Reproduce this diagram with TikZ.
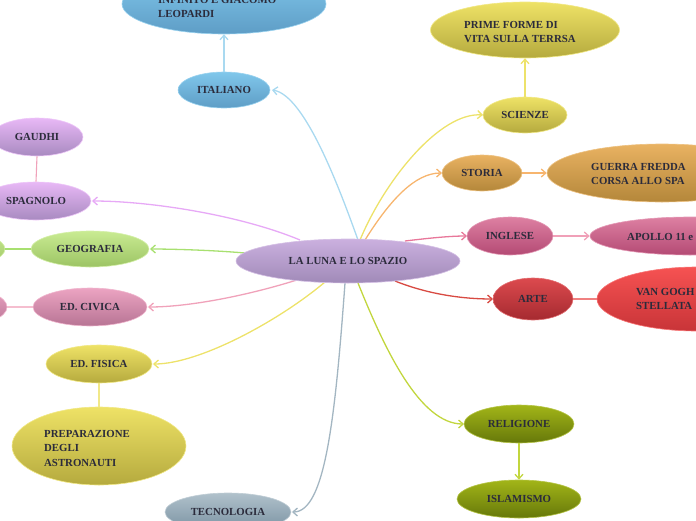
\documentclass[tikz,border=0pt]{standalone}
\usepackage{fontspec}
\setmainfont{Liberation Serif}
\usetikzlibrary{arrows.meta,calc,shapes.geometric}
\definecolor{txtc}{HTML}{2B2B3B}
\definecolor{purT}{HTML}{CBB0DF}\definecolor{purB}{HTML}{A08AB8}
\definecolor{bluT}{HTML}{80C7EB}\definecolor{bluB}{HTML}{5E9DC6}
\definecolor{yelT}{HTML}{EEE266}\definecolor{yelB}{HTML}{B5AA3E}
\definecolor{oraT}{HTML}{E9B262}\definecolor{oraB}{HTML}{B4873A}
\definecolor{pinT}{HTML}{DD80A2}\definecolor{pinB}{HTML}{B44A74}
\definecolor{redT}{HTML}{DC4A4E}\definecolor{redB}{HTML}{A52A30}
\definecolor{vanT}{HTML}{F65252}\definecolor{vanB}{HTML}{C83438}
\definecolor{lilT}{HTML}{E8B8F6}\definecolor{lilB}{HTML}{A88AC0}
\definecolor{grnT}{HTML}{C9EB92}\definecolor{grnB}{HTML}{9CC464}
\definecolor{pcvT}{HTML}{ECA4C2}\definecolor{pcvB}{HTML}{B77494}
\definecolor{tecT}{HTML}{B0C1CB}\definecolor{tecB}{HTML}{7A92A2}
\definecolor{oliT}{HTML}{A2B518}\definecolor{oliB}{HTML}{66780A}
\definecolor{cBlue}{HTML}{A9D9F0}\definecolor{cYel}{HTML}{EDE26A}
\definecolor{cOra}{HTML}{F7B56E}\definecolor{cPink}{HTML}{E8779A}
\definecolor{cRed}{HTML}{D84A42}\definecolor{cOli}{HTML}{C2D63E}
\definecolor{cTec}{HTML}{A3B6C2}\definecolor{cCiv}{HTML}{F0A2BA}
\definecolor{cGrn}{HTML}{A8E070}\definecolor{cLil}{HTML}{E7A9F6}
\definecolor{cIng}{HTML}{F0A0B8}\definecolor{cArt}{HTML}{F08080}
\begin{document}
\begin{tikzpicture}[x=1pt,y=-1pt,
  ell/.style n args={4}{ellipse, inner sep=0pt, minimum width=#1, minimum height=#2,
     top color=#3, bottom color=#4, draw=#3!80!white, line width=0.6pt,
     font=\fontsize{10.8}{14.5}\selectfont\bfseries, text=txtc, align=left},
  txt/.style={inner sep=0pt, font=\fontsize{10.8}{14.5}\selectfont\bfseries, text=txtc, align=left, anchor=west},
  conn/.style={line width=1.3pt, -{Straight Barb[length=4.5pt,width=8pt]}},
  link/.style={line width=1.1pt}]
\useasboundingbox (0,0) rectangle (696,520);
\clip (0,0) rectangle (696,520);
% connectors from centre (drawn first)
\coordinate (cc) at (348,261);
\draw[conn,cBlue] ($(cc)+(10,-21)$) .. controls (340,190) and (305,95) .. (272,90) coordinate (e1);
\draw[conn,cYel] ($(cc)+(12,-21)$) .. controls (385,180) and (440,112) .. (483,115) coordinate (e2);
\draw[conn,cOra] ($(cc)+(17,-21)$) .. controls (390,200) and (415,173) .. (442,173) coordinate (e3);
\draw[conn,cPink] ($(cc)+(57,-20)$) .. controls (430,238) and (450,236) .. (467,236) coordinate (e4);
\draw[conn,cRed] ($(cc)+(47,20)$) .. controls (430,295) and (465,299) .. (493,299) coordinate (e5);
\draw[conn,cOli] ($(cc)+(10,22)$) .. controls (385,350) and (420,424) .. (464,424) coordinate (e6);
\draw[conn,cTec] ($(cc)+(-3,22)$) .. controls (335,420) and (325,512) .. (292,512) coordinate (e7);
\draw[conn,cYel] ($(cc)+(-23,21)$) .. controls (280,320) and (200,364) .. (153,364) coordinate (e8);
\draw[conn,cCiv] ($(cc)+(-48,18)$) .. controls (250,295) and (190,307) .. (148,307) coordinate (e9);
\draw[conn,cGrn] ($(cc)+(-103,-8)$) .. controls (210,250) and (170,249) .. (150,249) coordinate (e10);
\draw[conn,cLil] ($(cc)+(-48,-21)$) .. controls (240,215) and (150,201) .. (92,201) coordinate (e11);
% central node
\node[ell={224pt}{44pt}{purT}{purB}] (c) at (348,261) {LA LUNA E LO SPAZIO};
% nodes
\node[ell={92pt}{36pt}{bluT}{bluB}] (italiano) at (224,90) {ITALIANO};
\node[ell={204pt}{60pt}{bluT}{bluB}] (infinito) at (224,4) {};
\node[txt] (infinitot) at (158,7) {INFINITO E GIACOMO\\LEOPARDI};
\node[ell={84pt}{36pt}{yelT}{yelB}] (scienze) at (525,115) {SCIENZE};
\node[ell={189pt}{56pt}{yelT}{yelB}] (prime) at (525,30) {};
\node[txt] (primet) at (464,32) {PRIME FORME DI\\VITA SULLA TERRSA};
\node[ell={80pt}{36pt}{oraT}{oraB}] (storia) at (482,173) {STORIA};
\node[ell={230pt}{58pt}{oraT}{oraB}] (guerra) at (662,173) {};
\node[txt] (guerrat) at (591,174) {GUERRA FREDDA\\CORSA ALLO SPA};
\node[ell={86pt}{38pt}{pinT}{pinB}] (inglese) at (510,236) {INGLESE};
\node[ell={200pt}{38pt}{pinT}{pinB}] (apollo) at (690,236) {};
\node[txt] (apollot) at (627,237) {APOLLO 11 e};
\node[ell={80pt}{42pt}{redT}{redB}] (arte) at (533,299) {ARTE};
\node[ell={200pt}{64pt}{vanT}{vanB}] (vangogh) at (697,299) {};
\node[txt] (vangoght) at (636,299) {VAN GOGH\\STELLATA};
\node[ell={92pt}{38pt}{lilT}{lilB}] (gaudhi) at (37,137) {GAUDHI};
\node[ell={110pt}{38pt}{lilT}{lilB}] (spagnolo) at (36,201) {SPAGNOLO};
\node[ell={118pt}{36pt}{grnT}{grnB}] (geografia) at (90,249) {GEOGRAFIA};
\node[ell={90pt}{34pt}{grnT}{grnB}] (geoleft) at (-40,249) {};
\node[ell={114pt}{38pt}{pcvT}{pcvB}] (civica) at (90,307) {ED. CIVICA};
\node[ell={94pt}{38pt}{pcvT}{pcvB}] (civleft) at (-40,307) {};
\node[ell={106pt}{38pt}{yelT}{yelB}] (fisica) at (99,364) {ED. FISICA};
\node[ell={174pt}{78pt}{yelT}{yelB}] (prep) at (99,446) {};
\node[txt] (prept) at (44,448) {PREPARAZIONE\\DEGLI\\ASTRONAUTI};
\node[ell={126pt}{38pt}{tecT}{tecB}] (tecnologia) at (228,512) {TECNOLOGIA};
\node[ell={110pt}{38pt}{oliT}{oliB}] (religione) at (519,424) {RELIGIONE};
\node[ell={124pt}{38pt}{oliT}{oliB}] (islamismo) at (519,499) {ISLAMISMO};
% sub connectors
\draw[conn,cBlue] (italiano.north) -- (infinito.south);
\draw[conn,cYel] (scienze.north) -- (prime.south);
\draw[conn,cOra] (storia.east) -- (guerra.west);
\draw[conn,cIng] (inglese.east) -- (apollo.west);
\draw[link,cArt] (arte.east) -- (vangogh.west);
\draw[link,cCiv] (spagnolo.north) -- (gaudhi.south);
\draw[link,cGrn] (geografia.west) -- (geoleft.east);
\draw[link,cCiv!70!white] (civica.west) -- (civleft.east);
\draw[link,cYel!80!white] (fisica.south) -- (prep.north);
\draw[conn,cOli] (religione.south) -- (islamismo.north);
\end{tikzpicture}
\end{document}
